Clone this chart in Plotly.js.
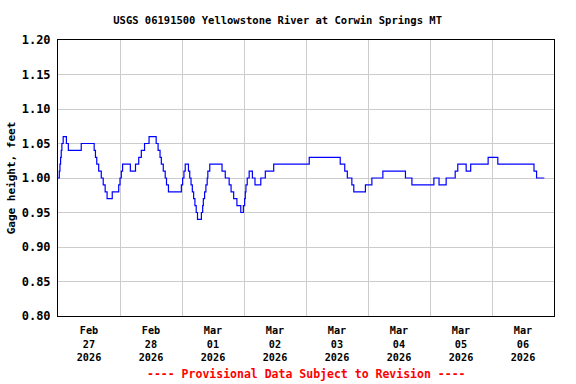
<!DOCTYPE html>
<html>
<head>
<meta charset="utf-8">
<script src="https://cdn.plot.ly/plotly-3.0.1.min.js"></script>
<style>html,body{margin:0;padding:0;background:#fff;}#chart{width:576px;height:384px;}</style>
</head>
<body>
<div id="chart"></div>
<script>
// Gage height change points (value holds until next time)
const times = [
"2026-02-27 00:00","2026-02-27 00:30","2026-02-27 00:45","2026-02-27 01:00","2026-02-27 01:15","2026-02-27 01:30","2026-02-27 02:00","2026-02-27 03:15","2026-02-27 04:00","2026-02-27 09:00",
"2026-02-27 14:00","2026-02-27 14:30","2026-02-27 15:00","2026-02-27 15:45","2026-02-27 16:45","2026-02-27 17:30","2026-02-27 18:15","2026-02-27 19:00","2026-02-27 21:00","2026-02-27 23:30",
"2026-02-28 00:00","2026-02-28 00:30","2026-02-28 01:00","2026-02-28 04:00","2026-02-28 06:00","2026-02-28 07:15","2026-02-28 08:15","2026-02-28 09:30","2026-02-28 11:15","2026-02-28 14:00",
"2026-02-28 14:45","2026-02-28 15:30","2026-02-28 16:00","2026-02-28 16:45","2026-02-28 17:30","2026-02-28 18:00","2026-02-28 18:45","2026-02-28 23:45",
"2026-03-01 00:15","2026-03-01 00:45","2026-03-01 01:15","2026-03-01 02:30","2026-03-01 03:00","2026-03-01 03:30","2026-03-01 04:00","2026-03-01 04:30","2026-03-01 05:00","2026-03-01 05:30",
"2026-03-01 06:00","2026-03-01 07:30","2026-03-01 08:00","2026-03-01 08:15","2026-03-01 08:45","2026-03-01 09:15","2026-03-01 09:45","2026-03-01 10:00","2026-03-01 10:45","2026-03-01 15:30",
"2026-03-01 16:45","2026-03-01 18:15","2026-03-01 19:00","2026-03-01 20:00","2026-03-01 21:15","2026-03-01 22:45","2026-03-01 23:45",
"2026-03-02 00:15","2026-03-02 00:30","2026-03-02 00:45","2026-03-02 01:15","2026-03-02 02:00","2026-03-02 03:15","2026-03-02 04:15","2026-03-02 06:30","2026-03-02 08:15","2026-03-02 11:30",
"2026-03-03 01:15","2026-03-03 13:15","2026-03-03 15:00","2026-03-03 16:00","2026-03-03 17:45","2026-03-03 18:30","2026-03-03 23:00",
"2026-03-04 01:30","2026-03-04 05:45","2026-03-04 14:30","2026-03-04 17:00",
"2026-03-05 01:30","2026-03-05 03:30","2026-03-05 06:15","2026-03-05 09:45","2026-03-05 10:45","2026-03-05 14:00","2026-03-05 15:45","2026-03-05 22:30",
"2026-03-06 02:15","2026-03-06 16:15","2026-03-06 17:15","2026-03-06 20:15"
];
const gageHeight = [
1.00,1.01,1.02,1.03,1.04,1.05,1.06,1.05,1.04,1.05,
1.04,1.03,1.02,1.01,1.00,0.99,0.98,0.97,0.98,0.99,
1.00,1.01,1.02,1.01,1.02,1.03,1.04,1.05,1.06,1.05,
1.04,1.03,1.02,1.01,1.00,0.99,0.98,0.99,
1.00,1.01,1.02,1.01,1.00,0.99,0.98,0.97,0.96,0.95,
0.94,0.95,0.96,0.97,0.98,0.99,1.00,1.01,1.02,1.01,
1.00,0.99,0.98,0.97,0.96,0.95,0.96,
0.97,0.98,0.99,1.00,1.01,1.00,0.99,1.00,1.01,1.02,
1.03,1.02,1.01,1.00,0.99,0.98,0.99,
1.00,1.01,1.00,0.99,
1.00,0.99,1.00,1.01,1.02,1.01,1.02,1.03,
1.02,1.01,1.00,1.00
];
const tickDates = ["2026-02-27 12:00","2026-02-28 12:00","2026-03-01 12:00","2026-03-02 12:00","2026-03-03 12:00","2026-03-04 12:00","2026-03-05 12:00","2026-03-06 12:00"];
const tickLabels = ["Feb<br>27<br>2026","Feb<br>28<br>2026","Mar<br>01<br>2026","Mar<br>02<br>2026","Mar<br>03<br>2026","Mar<br>04<br>2026","Mar<br>05<br>2026","Mar<br>06<br>2026"];
const yTicks = [0.80,0.85,0.90,0.95,1.00,1.05,1.10,1.15,1.20];
const xRange = ["2026-02-27 00:00","2026-03-07 00:00"];
const yRange = [0.80,1.20];
const titleText = "USGS 06191500 Yellowstone River at Corwin Springs MT";
const yTitle = "Gage height, feet";
const noteText = "---- Provisional Data Subject to Revision ----";

const F = "DejaVu Sans Mono, Liberation Mono, monospace";
const trace = {
  x: times, y: gageHeight, type: "scatter", mode: "lines",
  line: {color: "#0000ff", width: 1.2, shape: "hv"}, hoverinfo: "skip"
};
const layout = {
  width: 576, height: 384,
  margin: {l: 58, r: 22, t: 40, b: 68},
  paper_bgcolor: "#ffffff", plot_bgcolor: "#ffffff",
  showlegend: false,
  font: {family: F, size: 11, color: "#000", weight: "bold"},
  title: {text: titleText, font: {family: F, size: 10.5, color: "#000", weight: "bold"},
          xref: "container", x: 0.482, xanchor: "center", yref: "container", y: 0.948, yanchor: "middle"},
  xaxis: {
    type: "date", range: xRange, tickmode: "array", tickvals: tickDates, ticktext: tickLabels,
    showgrid: false, ticks: "outside", ticklen: 5, tickcolor: "rgba(0,0,0,0)",
    tickfont: {family: F, size: 10.2, color: "#000", weight: "bold"},
    showline: true, linecolor: "#000", linewidth: 1, mirror: true, zeroline: false,
    minor: {showgrid: true, gridcolor: "#cccccc", gridwidth: 1, dtick: 86400000, tick0: "2026-02-27 00:00", ticks: ""}
  },
  yaxis: {
    range: yRange, tickmode: "array", tickvals: yTicks, ticktext: yTicks.map(v => v.toFixed(2)),
    showgrid: true, gridcolor: "#cccccc", gridwidth: 1,
    ticks: "outside", ticklen: 4, tickcolor: "rgba(0,0,0,0)",
    tickfont: {family: F, size: 12, color: "#000", weight: "bold"},
    showline: true, linecolor: "#000", linewidth: 1, mirror: true, zeroline: false,
    title: {text: yTitle, font: {family: F, size: 11, color: "#000", weight: "bold"}, standoff: 3}
  },
  annotations: [{
    text: noteText, xref: "paper", yref: "paper", x: 0.5, y: -0.21, xanchor: "center", yanchor: "middle",
    showarrow: false, font: {family: F, size: 11.5, color: "#ff0000", weight: "bold"}
  }]
};
Plotly.newPlot("chart", [trace], layout, {staticPlot: true, displayModeBar: false});
</script>
</body>
</html>
